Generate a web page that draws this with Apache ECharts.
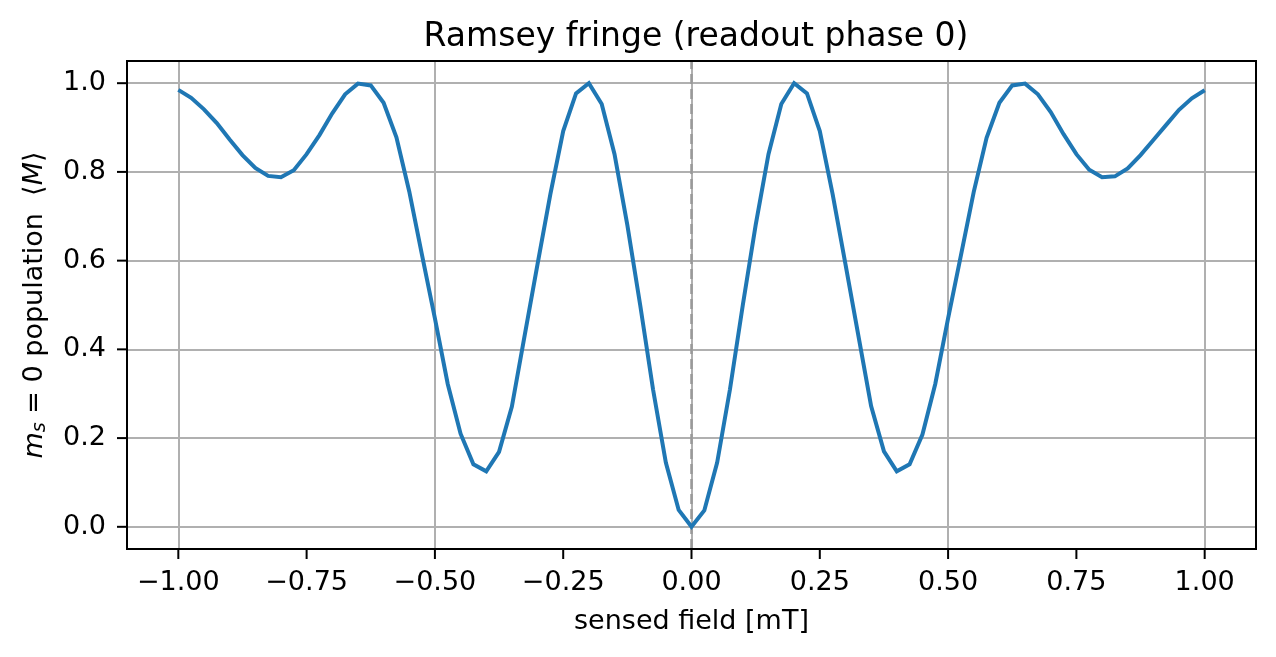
<!DOCTYPE html>
<html>
<head>
<meta charset="utf-8">
<script src="https://cdn.jsdelivr.net/npm/echarts@6/dist/echarts.min.js"></script>
<style>
  html, body {margin: 0; padding: 0; background: #fff;}
  #chart {width: 1276px; height: 657px;}
</style>
</head>
<body>
<div id="chart"></div>
<script>
// sensed field samples [mT]
const FIELD_MT = [
  -1.000, -0.975, -0.950, -0.925, -0.900, -0.875, -0.850, -0.825, -0.800, -0.775,
  -0.750, -0.725, -0.700, -0.675, -0.650, -0.625, -0.600, -0.575, -0.550, -0.525,
  -0.500, -0.475, -0.450, -0.425, -0.400, -0.375, -0.350, -0.325, -0.300, -0.275,
  -0.250, -0.225, -0.200, -0.175, -0.150, -0.125, -0.100, -0.075, -0.050, -0.025,
  0.000,
  0.025, 0.050, 0.075, 0.100, 0.125, 0.150, 0.175, 0.200, 0.225, 0.250,
  0.275, 0.300, 0.325, 0.350, 0.375, 0.400, 0.425, 0.450, 0.475, 0.500,
  0.525, 0.550, 0.575, 0.600, 0.625, 0.650, 0.675, 0.700, 0.725, 0.750,
  0.775, 0.800, 0.825, 0.850, 0.875, 0.900, 0.925, 0.950, 0.975, 1.000
];

// m_s = 0 population
const POPULATION = [
  0.985, 0.967, 0.941, 0.910, 0.873, 0.838, 0.809, 0.791, 0.788, 0.804,
  0.840, 0.883, 0.932, 0.975, 0.999, 0.995, 0.956, 0.878, 0.756, 0.612,
  0.470, 0.322, 0.210, 0.141, 0.125, 0.169, 0.271, 0.432, 0.592, 0.750,
  0.892, 0.977, 1.000, 0.953, 0.840, 0.680, 0.500, 0.310, 0.145, 0.038,
  0.000,
  0.037, 0.145, 0.310, 0.500, 0.680, 0.840, 0.953, 1.000, 0.977, 0.892,
  0.750, 0.592, 0.432, 0.272, 0.170, 0.125, 0.141, 0.208, 0.322, 0.470,
  0.612, 0.755, 0.877, 0.956, 0.995, 0.999, 0.975, 0.935, 0.885, 0.840,
  0.805, 0.788, 0.790, 0.808, 0.838, 0.872, 0.906, 0.940, 0.966, 0.984
];

const X_TICKS = [-1, -0.75, -0.5, -0.25, 0, 0.25, 0.5, 0.75, 1];
const X_TICK_LABELS = ["\u22121.00", "\u22120.75", "\u22120.50", "\u22120.25", "0.00", "0.25", "0.50", "0.75", "1.00"];
const Y_TICKS = [0, 0.2, 0.4, 0.6, 0.8, 1.0];
const Y_TICK_LABELS = ["0.0", "0.2", "0.4", "0.6", "0.8", "1.0"];
const X_RANGE = [-1.1, 1.1];
const Y_RANGE = [-0.05, 1.05];

const FONT = "DejaVu Sans";
const TICK_LEN = 10;

function tickLabel(ticks, labels) {
  return value => {
    const i = ticks.findIndex(t => Math.abs(t - value) < 1e-9);
    return i < 0 ? "" : labels[i];
  };
}

const chart = echarts.init(document.getElementById("chart"), null, {renderer: "canvas"});

const option = {
  animation: false,
  backgroundColor: "#fff",
  title: {
    text: "Ramsey fringe (readout phase 0)",
    left: 691,
    top: 16,
    textAlign: "center",
    textStyle: {fontFamily: FONT, fontSize: 33, fontWeight: "normal", color: "#000"},
  },
  grid: {left: 127, right: 20, top: 61, bottom: 108},
  xAxis: {
    type: "value",
    min: X_RANGE[0],
    max: X_RANGE[1],
    name: "sensed field [mT]",
    nameLocation: "middle",
    nameGap: 59,
    nameTextStyle: {fontFamily: FONT, fontSize: 27, color: "#000"},
    axisLine: {show: false, onZero: false},
    axisTick: {show: false},
    axisLabel: {
      customValues: X_TICKS,
      formatter: tickLabel(X_TICKS, X_TICK_LABELS),
      margin: 20,
      fontFamily: FONT, fontSize: 27, color: "#000",
    },
    splitLine: {show: true, lineStyle: {color: "#b0b0b0", width: 2}},
  },
  yAxis: {
    type: "value",
    min: Y_RANGE[0],
    max: Y_RANGE[1],
    axisLine: {show: false, onZero: false},
    axisTick: {show: false},
    axisLabel: {
      customValues: Y_TICKS,
      formatter: tickLabel(Y_TICKS, Y_TICK_LABELS),
      margin: 21,
      fontFamily: FONT, fontSize: 27, color: "#000",
    },
    splitLine: {show: true, lineStyle: {color: "#b0b0b0", width: 2}},
  },
  series: [{
    type: "line",
    data: FIELD_MT.map((x, i) => [x, POPULATION[i]]),
    showSymbol: false,
    lineStyle: {color: "#1f77b4", width: 4, cap: "butt", join: "miter"},
    itemStyle: {color: "#1f77b4"},
    z: 3,
    markLine: {
      silent: true,
      symbol: "none",
      label: {show: false},
      lineStyle: {color: "#999", type: [10, 5], width: 2.5},
      data: [{xAxis: 0}],
      z: 2,
    },
  }],
};

chart.setOption(option);

// axes frame and outward tick marks, placed through the axis scales
const [xLeft, yBottom] = chart.convertToPixel({gridIndex: 0}, [X_RANGE[0], Y_RANGE[0]]);
const [xRight, yTop] = chart.convertToPixel({gridIndex: 0}, [X_RANGE[1], Y_RANGE[1]]);
const inkStyle = {stroke: "#000", lineWidth: 2, fill: null};
const tickMarks = [
  ...X_TICKS.map(v => {
    const px = chart.convertToPixel({xAxisIndex: 0}, v);
    return {type: "line", silent: true, z: 10, shape: {x1: px, y1: yBottom, x2: px, y2: yBottom + TICK_LEN}, style: inkStyle};
  }),
  ...Y_TICKS.map(v => {
    const py = chart.convertToPixel({yAxisIndex: 0}, v);
    return {type: "line", silent: true, z: 10, shape: {x1: xLeft - TICK_LEN, y1: py, x2: xLeft, y2: py}, style: inkStyle};
  }),
];

chart.setOption({
  graphic: [
    {
      type: "rect",
      silent: true,
      z: 10,
      shape: {x: xLeft, y: yTop, width: xRight - xLeft, height: yBottom - yTop},
      style: inkStyle,
    },
    ...tickMarks,
    {
      type: "text",
      x: 35,
      y: 305,
      rotation: Math.PI / 2,
      style: {
        text: "{i|m}{sub|s}{n| = 0 population  \u27E8}{i|M}{n|\u27E9}",
        align: "center",
        verticalAlign: "middle",
        rich: {
          n: {fontFamily: FONT, fontSize: 27, lineHeight: 30, fill: "#000"},
          i: {fontFamily: FONT, fontSize: 27, lineHeight: 30, fontStyle: "italic", fill: "#000"},
          sub: {fontFamily: FONT, fontSize: 19, lineHeight: 18, fontStyle: "italic", verticalAlign: "bottom", fill: "#000"},
        },
      },
    },
  ],
});
</script>
</body>
</html>
